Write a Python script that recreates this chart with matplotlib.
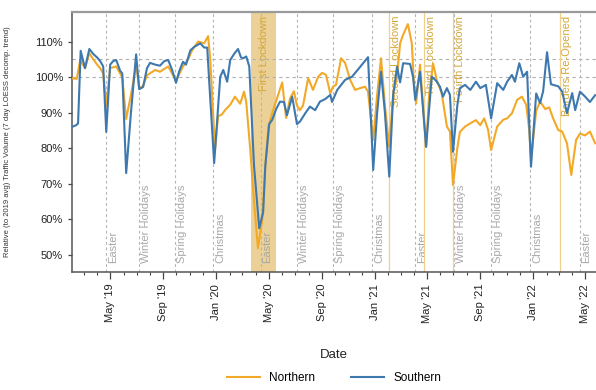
import matplotlib
matplotlib.use("Agg")
import matplotlib.pyplot as plt
import matplotlib.dates as mdates
import matplotlib.ticker as mticker
import pandas as pd
from matplotlib.lines import Line2D

plt.rcParams['font.family'] = ['Liberation Sans', 'DejaVu Sans']

# ---------------- data ----------------
north_dates = [
    "2019-02-02", "2019-02-13", "2019-02-21", "2019-03-04", "2019-03-14", "2019-03-23", "2019-04-01",
    "2019-04-08", "2019-04-15", "2019-04-22", "2019-05-01", "2019-05-15", "2019-05-24", "2019-05-29",
    "2019-06-07", "2019-06-18", "2019-06-30", "2019-07-07", "2019-07-16", "2019-07-25", "2019-08-13",
    "2019-08-24", "2019-09-12", "2019-09-21", "2019-09-30", "2019-10-16", "2019-10-28", "2019-11-06",
    "2019-11-20", "2019-12-04", "2019-12-13", "2019-12-18", "2019-12-29", "2020-01-05", "2020-01-14",
    "2020-01-21", "2020-02-02", "2020-02-13", "2020-02-25", "2020-03-05", "2020-03-10", "2020-03-19",
    "2020-03-28", "2020-04-06", "2020-04-16", "2020-04-23", "2020-04-30", "2020-05-09", "2020-05-18",
    "2020-06-01", "2020-06-10", "2020-06-19", "2020-06-28", "2020-07-05", "2020-07-12", "2020-07-19",
    "2020-07-31", "2020-08-11", "2020-08-23", "2020-09-01", "2020-09-10", "2020-09-20", "2020-09-26",
    "2020-10-03", "2020-10-15", "2020-10-24", "2020-11-05", "2020-11-16", "2020-11-28", "2020-12-09",
    "2020-12-16", "2020-12-28", "2021-01-06", "2021-01-15", "2021-01-24", "2021-02-03", "2021-02-12",
    "2021-02-21", "2021-02-28", "2021-03-07", "2021-03-18", "2021-03-27", "2021-04-01", "2021-04-06",
    "2021-04-15", "2021-04-29", "2021-05-06", "2021-05-15", "2021-05-24", "2021-06-04", "2021-06-16",
    "2021-06-23", "2021-06-30", "2021-07-10", "2021-07-16", "2021-07-28", "2021-08-09", "2021-08-22",
    "2021-09-01", "2021-09-10", "2021-09-19", "2021-09-26", "2021-10-10", "2021-10-24", "2021-11-02",
    "2021-11-13", "2021-11-25", "2021-12-06", "2021-12-16", "2021-12-23", "2021-12-27", "2022-01-08",
    "2022-01-17", "2022-01-29", "2022-02-07", "2022-02-16", "2022-02-28", "2022-03-09", "2022-03-20",
    "2022-03-30", "2022-04-10", "2022-04-19", "2022-05-01", "2022-05-12", "2022-05-24",
]
north_vals = [
    99.7, 99.5, 104.8, 102.5, 106.7, 105.0, 103.5,
    102.5, 101.0, 91.7, 102.5, 103.0, 101.0, 100.0,
    88.2, 95.0, 103.4, 97.0, 97.5, 100.5, 102.0,
    101.5, 103.0, 101.0, 99.0, 103.0, 105.0, 107.5,
    110.0, 109.5, 111.5, 105.0, 79.5, 89.0, 89.5,
    90.7, 92.2, 94.5, 92.5, 95.9, 93.0, 80.0,
    65.0, 51.9, 60.0, 75.0, 86.0, 90.0, 93.3,
    98.5, 88.5, 94.0, 96.0, 92.0, 90.7, 92.0,
    99.7, 96.4, 100.1, 101.2, 100.6, 95.4, 97.3,
    97.8, 105.3, 104.0, 99.2, 96.4, 96.9, 97.3,
    95.9, 82.3, 95.0, 105.3, 92.0, 80.4, 95.0,
    100.1, 109.5, 111.9, 114.9, 109.5, 98.2, 92.6,
    103.5, 80.4, 95.0, 103.8, 99.0, 95.4, 86.1,
    84.7, 69.7, 80.0, 84.6, 86.1, 87.0, 87.9,
    86.5, 88.4, 85.2, 79.5, 86.1, 88.0, 88.4,
    89.8, 93.6, 94.5, 92.2, 85.1, 77.0, 90.5,
    93.1, 91.0, 91.5, 88.4, 85.1, 84.7, 81.4,
    72.5, 82.3, 84.1, 83.6, 84.7, 81.4,
]

south_dates = [
    "2019-02-02", "2019-02-12", "2019-02-16", "2019-02-22", "2019-03-04", "2019-03-14", "2019-03-23",
    "2019-04-01", "2019-04-08", "2019-04-15", "2019-04-22", "2019-05-01", "2019-05-08", "2019-05-15",
    "2019-05-24", "2019-05-29", "2019-06-07", "2019-06-18", "2019-06-30", "2019-07-07", "2019-07-16",
    "2019-07-25", "2019-08-01", "2019-08-13", "2019-08-24", "2019-09-03", "2019-09-12", "2019-09-21",
    "2019-09-30", "2019-10-07", "2019-10-16", "2019-10-23", "2019-11-02", "2019-11-11", "2019-11-25",
    "2019-12-04", "2019-12-11", "2019-12-15", "2019-12-27", "2020-01-10", "2020-01-17", "2020-01-26",
    "2020-02-02", "2020-02-11", "2020-02-20", "2020-02-27", "2020-03-03", "2020-03-10", "2020-03-17",
    "2020-03-28", "2020-04-09", "2020-04-18", "2020-04-23", "2020-05-02", "2020-05-09", "2020-05-18",
    "2020-05-27", "2020-06-05", "2020-06-12", "2020-06-24", "2020-07-05", "2020-07-12", "2020-07-24",
    "2020-08-04", "2020-08-16", "2020-08-27", "2020-09-08", "2020-09-20", "2020-09-24", "2020-10-06",
    "2020-10-24", "2020-11-09", "2020-11-28", "2020-12-16", "2020-12-28", "2021-01-06", "2021-01-15",
    "2021-01-24", "2021-02-03", "2021-02-12", "2021-02-21", "2021-02-28", "2021-03-07", "2021-03-23",
    "2021-03-30", "2021-04-04", "2021-04-15", "2021-04-29", "2021-05-12", "2021-05-22", "2021-05-31",
    "2021-06-07", "2021-06-16", "2021-06-23", "2021-06-30", "2021-07-10", "2021-07-16", "2021-07-28",
    "2021-08-09", "2021-08-22", "2021-09-01", "2021-09-14", "2021-09-26", "2021-10-10", "2021-10-24",
    "2021-11-02", "2021-11-13", "2021-11-20", "2021-11-30", "2021-12-09", "2021-12-18", "2021-12-27",
    "2022-01-08", "2022-01-17", "2022-01-24", "2022-02-02", "2022-02-11", "2022-02-28", "2022-03-09",
    "2022-03-20", "2022-04-01", "2022-04-08", "2022-04-19", "2022-05-01", "2022-05-12", "2022-05-24",
]
south_vals = [
    86.0, 86.5, 87.0, 107.4, 102.5, 107.9, 106.5,
    105.5, 104.5, 103.0, 84.6, 103.5, 104.5, 104.8,
    101.8, 101.0, 73.0, 90.0, 106.4, 96.6, 97.2,
    102.5, 104.0, 103.5, 103.2, 104.5, 104.8, 102.0,
    98.4, 101.5, 104.3, 103.5, 107.5, 108.5, 109.5,
    108.3, 108.3, 100.0, 75.8, 100.1, 102.0, 98.7,
    104.8, 106.5, 107.9, 105.5, 105.3, 105.8, 103.0,
    75.0, 57.5, 62.0, 75.0, 86.8, 88.0, 91.0,
    93.1, 93.0, 89.3, 94.5, 86.8, 87.5, 89.8,
    91.7, 90.7, 93.1, 93.8, 95.0, 93.0, 96.4,
    99.2, 100.1, 102.9, 105.6, 73.9, 90.0, 101.5,
    90.0, 72.0, 95.0, 102.9, 98.5, 103.9, 103.7,
    100.0, 93.6, 101.5, 80.4, 100.1, 99.0, 97.3,
    94.5, 96.9, 95.0, 79.0, 92.0, 96.9, 97.8,
    96.4, 98.7, 96.9, 97.8, 88.4, 98.3, 96.4,
    98.7, 100.6, 98.7, 103.9, 100.1, 101.5, 74.8,
    95.4, 92.7, 96.0, 107.0, 98.0, 97.4, 95.9,
    89.8, 95.5, 90.7, 95.9, 94.5, 93.0, 94.9,
]

holiday_names = ["Easter", "Winter Holidays", "Spring Holidays", "Christmas",
                 "Easter", "Winter Holidays", "Spring Holidays", "Christmas",
                 "Easter", "Winter Holidays", "Spring Holidays", "Christmas",
                 "Easter"]
holiday_dates = ["2019-04-21", "2019-07-06", "2019-09-28", "2019-12-25",
                 "2020-04-12", "2020-07-04", "2020-09-26", "2020-12-26",
                 "2021-04-04", "2021-07-03", "2021-09-25", "2021-12-25",
                 "2022-04-18"]

first_lockdown = ("2020-03-22", "2020-05-18")
event_names = ["Second Lockdown", "Third Lockdown", "Fourth Lockdown", "Borders Re-Opened"]
event_dates = ["2021-02-02", "2021-04-24", "2021-06-29", "2022-03-03"]

ref_levels = [100, 105]
y_ticks = [50, 60, 70, 80, 90, 100, 110]

# ---------------- style ----------------
C_NORTH = "#F3A928"
C_SOUTH = "#3D78AE"
C_GOLD_TXT = "#D6A83A"
C_GOLD_LINE = "#F0D08A"
C_BAND = "#E8C985"
C_HOL = "#B5B5B5"
C_HOL_TXT = "#A8A8A8"

fig = plt.figure(figsize=(5.96, 3.90), dpi=100)
ax = fig.add_axes([72 / 596, 1 - 272 / 390, (596 - 72) / 596, 260 / 390])

nd = pd.to_datetime(north_dates)
sd = pd.to_datetime(south_dates)
hd = pd.to_datetime(holiday_dates)
ed = pd.to_datetime(event_dates)
fl0, fl1 = pd.to_datetime(first_lockdown[0]), pd.to_datetime(first_lockdown[1])

ax.set_xlim(pd.Timestamp("2019-02-02"), pd.Timestamp("2022-05-26"))
ax.set_ylim(45.2, 118.3)

# first lockdown band
ax.axvspan(fl0, fl1, color=C_BAND, alpha=0.85, lw=0, zorder=0.5)
ax.annotate("First Lockdown", xy=(fl0 + (fl1 - fl0) / 2, 0.985),
            xycoords=("data", "axes fraction"), rotation=90,
            ha="center", va="top", fontsize=8, color=C_GOLD_TXT, zorder=1)

# reference lines
for lv in ref_levels:
    ax.axhline(lv, color="#B0B0B0", lw=0.8, ls=(0, (3, 3)), zorder=1)

# holidays
for name, d in zip(holiday_names, hd):
    ax.axvline(d, color=C_HOL, lw=0.8, ls=(0, (2.5, 2.5)), zorder=1)
    ax.annotate(name, xy=(d, 0.035), xycoords=("data", "axes fraction"),
                xytext=(1.5, 0), textcoords="offset points", rotation=90,
                ha="left", va="bottom", fontsize=8, color=C_HOL_TXT, zorder=1)

# events
for name, d in zip(event_names, ed):
    ax.axvline(d, color=C_GOLD_LINE, lw=0.9, zorder=1)
    ax.annotate(name, xy=(d, 0.985), xycoords=("data", "axes fraction"),
                xytext=(1.8, 0), textcoords="offset points", rotation=90,
                ha="left", va="top", fontsize=8, color=C_GOLD_TXT, zorder=1)

# series
ax.plot(nd, north_vals, color=C_NORTH, lw=1.5, zorder=3)
ax.plot(sd, south_vals, color=C_SOUTH, lw=1.5, zorder=4)

# axes styling
ax.yaxis.set_major_locator(mticker.FixedLocator(y_ticks))
ax.yaxis.set_major_formatter(mticker.FuncFormatter(lambda v, p: f"{int(v)}%"))
ax.xaxis.set_major_locator(mdates.MonthLocator(bymonth=[1, 5, 9]))
ax.xaxis.set_minor_locator(mdates.MonthLocator())
ax.xaxis.set_major_formatter(mdates.DateFormatter("%b '%y"))
ax.tick_params(axis="x", which="major", rotation=90, labelsize=8, length=5,
               color="#444444", labelcolor="#222222", width=0.9)
ax.tick_params(axis="x", which="minor", length=2.5, color="#444444", width=0.8)
ax.tick_params(axis="y", labelsize=8, length=3, color="#444444", labelcolor="#222222", width=0.9)

for s in ["left", "bottom"]:
    ax.spines[s].set_color("#555555")
    ax.spines[s].set_linewidth(1.1)
ax.spines["top"].set_color("#9A9A9A")
ax.spines["top"].set_linewidth(1.6)
ax.spines["right"].set_visible(False)

fig.text(8 / 596, 1 - 142 / 390,
         "Relative (to 2019 avg) Traffic Volume (7 day LOESS decomp. trend)",
         rotation=90, ha="center", va="center", fontsize=5.5, color="#333333")

fig.text(334 / 596, 1 - 355 / 390, "Date", ha="center", va="center",
         fontsize=9.5, color="#222222")

handles = [Line2D([], [], color=C_NORTH, lw=1.5), Line2D([], [], color=C_SOUTH, lw=1.5)]
fig.legend(handles, ["Northern", "Southern"], loc="center",
           bbox_to_anchor=(334 / 596, 1 - 378 / 390), ncol=2, frameon=False,
           fontsize=8.5, handlelength=2.8, columnspacing=3.0, handletextpad=0.8)

fig.savefig("out.png", dpi=100)
